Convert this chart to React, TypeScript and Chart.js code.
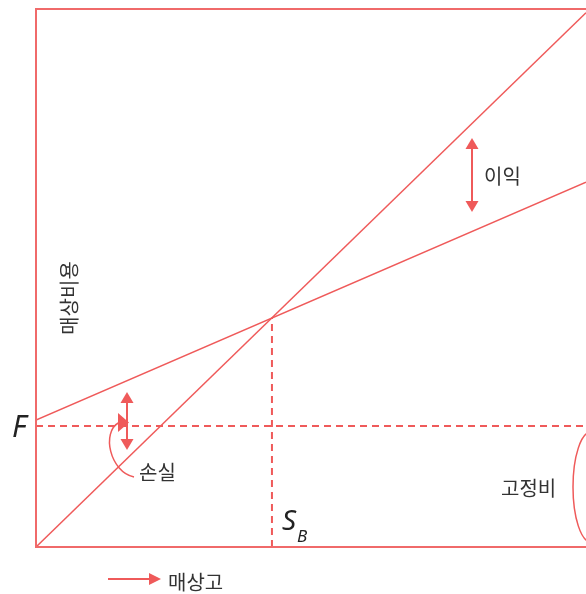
import React, { useEffect, useRef } from "react";
import { Chart, registerables } from "chart.js";

Chart.register(...registerables);

// Sales volume axis (0..100) and amounts (0..100)
const salesX = [0, 100];
const salesRevenue = [0, 99.3];
const totalCost = [23.6, 67.8];
const fixedCost = 22.5;
const breakEvenX = 42.9;
const breakEvenY = 42.6;

const labelProfit = "이익";
const labelLoss = "손실";
const labelFixed = "고정비";
const labelXAxis = "매상고";
const labelYAxis = "매상비용";

const RED = "#ef5a5a";
const FRAME = "#f06a6a";
const TEXT = "#333333";
const KR = '"Noto Sans CJK KR", "Noto Sans", sans-serif';

function vArrow(ctx: CanvasRenderingContext2D, x: number, y1: number, y2: number) {
  const hl = 11, hw = 6.5;
  ctx.save();
  ctx.strokeStyle = RED;
  ctx.fillStyle = RED;
  ctx.lineWidth = 2;
  ctx.beginPath();
  ctx.moveTo(x, y1 + hl - 1);
  ctx.lineTo(x, y2 - hl + 1);
  ctx.stroke();
  ctx.beginPath();
  ctx.moveTo(x, y1);
  ctx.lineTo(x + hw, y1 + hl);
  ctx.lineTo(x - hw, y1 + hl);
  ctx.closePath();
  ctx.fill();
  ctx.beginPath();
  ctx.moveTo(x, y2);
  ctx.lineTo(x + hw, y2 - hl);
  ctx.lineTo(x - hw, y2 - hl);
  ctx.closePath();
  ctx.fill();
  ctx.restore();
}

const decorations = {
  id: "decorations",
  afterDatasetsDraw(chart: any) {
    const ctx: CanvasRenderingContext2D = chart.ctx;
    const { left, top, right, bottom } = chart.chartArea;
    const xs = chart.scales.x;
    const ys = chart.scales.y;
    ctx.save();
    // frame (top, left, bottom)
    ctx.strokeStyle = FRAME;
    ctx.lineWidth = 2;
    ctx.beginPath();
    ctx.moveTo(right + 2, top);
    ctx.lineTo(left, top);
    ctx.lineTo(left, bottom);
    ctx.lineTo(right + 2, bottom);
    ctx.stroke();

    // profit arrow
    vArrow(ctx, 472, 138, 212);
    // loss arrow
    vArrow(ctx, 127, 392, 450);

    // loss pointer curve
    ctx.strokeStyle = RED;
    ctx.fillStyle = RED;
    ctx.lineWidth = 1.5;
    ctx.beginPath();
    ctx.moveTo(134, 477);
    ctx.bezierCurveTo(110, 472, 101, 432, 119, 422.5);
    ctx.stroke();
    ctx.beginPath();
    ctx.moveTo(129, 422.5);
    ctx.lineTo(118, 413);
    ctx.lineTo(118, 432);
    ctx.closePath();
    ctx.fill();

    // fixed cost bracket
    ctx.beginPath();
    ctx.ellipse(591, 487, 18, 55, 0, Math.PI / 2, (3 * Math.PI) / 2);
    ctx.stroke();

    // x-axis arrow
    ctx.lineWidth = 2;
    ctx.beginPath();
    ctx.moveTo(108, 579);
    ctx.lineTo(151, 579);
    ctx.stroke();
    ctx.beginPath();
    ctx.moveTo(161, 579);
    ctx.lineTo(149, 573);
    ctx.lineTo(149, 585);
    ctx.closePath();
    ctx.fill();

    // texts
    ctx.fillStyle = TEXT;
    ctx.font = `20px ${KR}`;
    ctx.textBaseline = "middle";
    ctx.textAlign = "left";
    ctx.fillText(labelProfit, 484, 176);
    ctx.fillText(labelLoss, 139, 472);
    ctx.fillText(labelFixed, 501, 488);
    ctx.fillText(labelXAxis, 168, 582);

    ctx.save();
    ctx.translate(69, 298);
    ctx.rotate(-Math.PI / 2);
    ctx.textAlign = "center";
    ctx.fillText(labelYAxis, 0, 0);
    ctx.restore();

    // F and S_B
    ctx.fillStyle = "#222222";
    ctx.textBaseline = "alphabetic";
    ctx.font = 'italic 30px "Noto Sans", sans-serif';
    ctx.fillText("F", 12, ys.getPixelForValue(fixedCost) + 11);
    ctx.font = 'italic 28px "Noto Sans", sans-serif';
    const sx = xs.getPixelForValue(breakEvenX) + 10;
    ctx.fillText("S", sx, 530);
    ctx.font = 'italic 17px "Noto Sans", sans-serif';
    ctx.fillText("B", sx + 15, 542);
    ctx.restore();
  },
};

export default function App() {
  const ref = useRef<HTMLCanvasElement | null>(null);
  useEffect(() => {
    if (!ref.current) return;
    const chart = new Chart(ref.current, {
      type: "line",
      data: {
        datasets: [
          {
            label: "매상",
            data: salesX.map((x, i) => ({ x, y: salesRevenue[i] })),
            borderColor: RED,
            borderWidth: 1.5,
            pointRadius: 0,
            fill: false,
          },
          {
            label: "총비용",
            data: salesX.map((x, i) => ({ x, y: totalCost[i] })),
            borderColor: RED,
            borderWidth: 1.5,
            pointRadius: 0,
            fill: false,
          },
          {
            label: "고정비",
            data: salesX.map((x) => ({ x, y: fixedCost })),
            borderColor: RED,
            borderWidth: 2,
            borderDash: [7, 5],
            pointRadius: 0,
            fill: false,
          },
          {
            label: "손익분기점",
            data: [
              { x: breakEvenX, y: 0 },
              { x: breakEvenX, y: breakEvenY },
            ],
            borderColor: RED,
            borderWidth: 2,
            borderDash: [7, 5],
            pointRadius: 0,
            fill: false,
          },
        ],
      },
      options: {
        animation: false,
        responsive: false,
        maintainAspectRatio: false,
        devicePixelRatio: 1,
        layout: { padding: { left: 36, top: 9, right: 0, bottom: 47 } },
        scales: {
          x: { type: "linear", min: 0, max: 100, display: false },
          y: { type: "linear", min: 0, max: 100, display: false },
        },
        plugins: { legend: { display: false }, tooltip: { enabled: false } },
        events: [],
      },
      plugins: [decorations],
    });
    return () => chart.destroy();
  }, []);
  return (
    <div style={{ position: "fixed", left: 0, top: 0, width: 586, height: 594, overflow: "hidden", background: "#fff" }}>
      <canvas ref={ref} width={586} height={594} style={{ display: "block" }} />
    </div>
  );
}
